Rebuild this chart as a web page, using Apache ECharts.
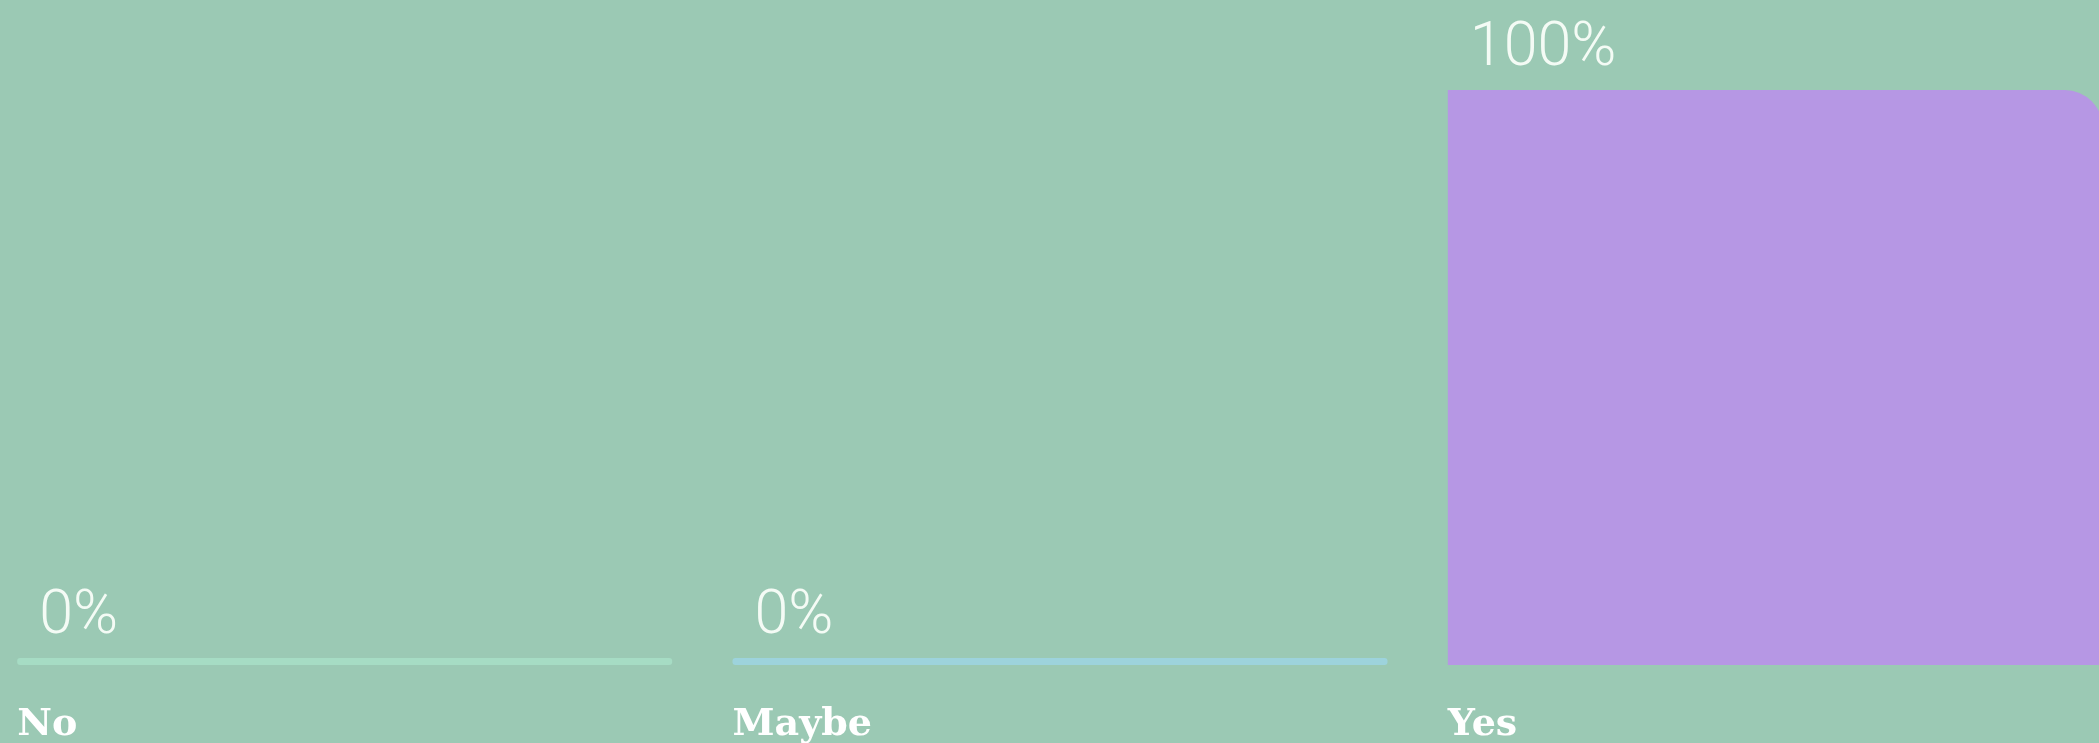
<!DOCTYPE html>
<html>
<head>
<meta charset="utf-8">
<style>
html,body{margin:0;padding:0;background:#9bc9b4;}
#chart{width:2099px;height:743px;}
</style>
<script src="https://cdn.jsdelivr.net/npm/echarts@6/dist/echarts.min.js"></script>
</head>
<body>
<div id="chart"></div>
<script>
const categories = ['No', 'Maybe', 'Yes'];
const percentValues = [0, 0, 100];
const barColors = ['#a6dcc4', '#9dd3dc', '#b697e4'];

const chart = echarts.init(document.getElementById('chart'));
const data = percentValues.map((v, i) => ({
  value: v,
  itemStyle: {
    color: barColors[i],
    borderRadius: v === 0 ? 3 : [0, 38, 0, 0]
  }
}));

chart.setOption({
  backgroundColor: '#9bc9b4',
  animation: false,
  grid: { left: -13, right: -34, top: 90, bottom: 78, containLabel: false, outerBoundsMode: 'none' },
  xAxis: {
    type: 'category',
    data: categories,
    axisLine: { show: false },
    axisTick: { show: false },
    axisLabel: {
      interval: 0,
      margin: 41,
      formatter: v => '{a|' + v + '}',
      rich: {
        a: {
          width: 655,
          align: 'left',
          color: '#ffffff',
          fontFamily: 'DejaVu Serif',
          fontWeight: 'bold',
          fontSize: 38
        }
      }
    }
  },
  yAxis: {
    type: 'value',
    min: 0,
    max: 100,
    show: false,
    splitLine: { show: false }
  },
  series: [{
    type: 'bar',
    data: data,
    barWidth: 655,
    barMinHeight: 7,
    label: {
      show: true,
      position: [22, -10],
      align: 'left',
      verticalAlign: 'bottom',
      formatter: p => p.value + '%',
      color: '#f4fbf5',
      fontFamily: 'Roboto',
      fontWeight: 300,
      fontSize: 61,
      lineHeight: 61
    }
  }]
});
</script>
</body>
</html>
